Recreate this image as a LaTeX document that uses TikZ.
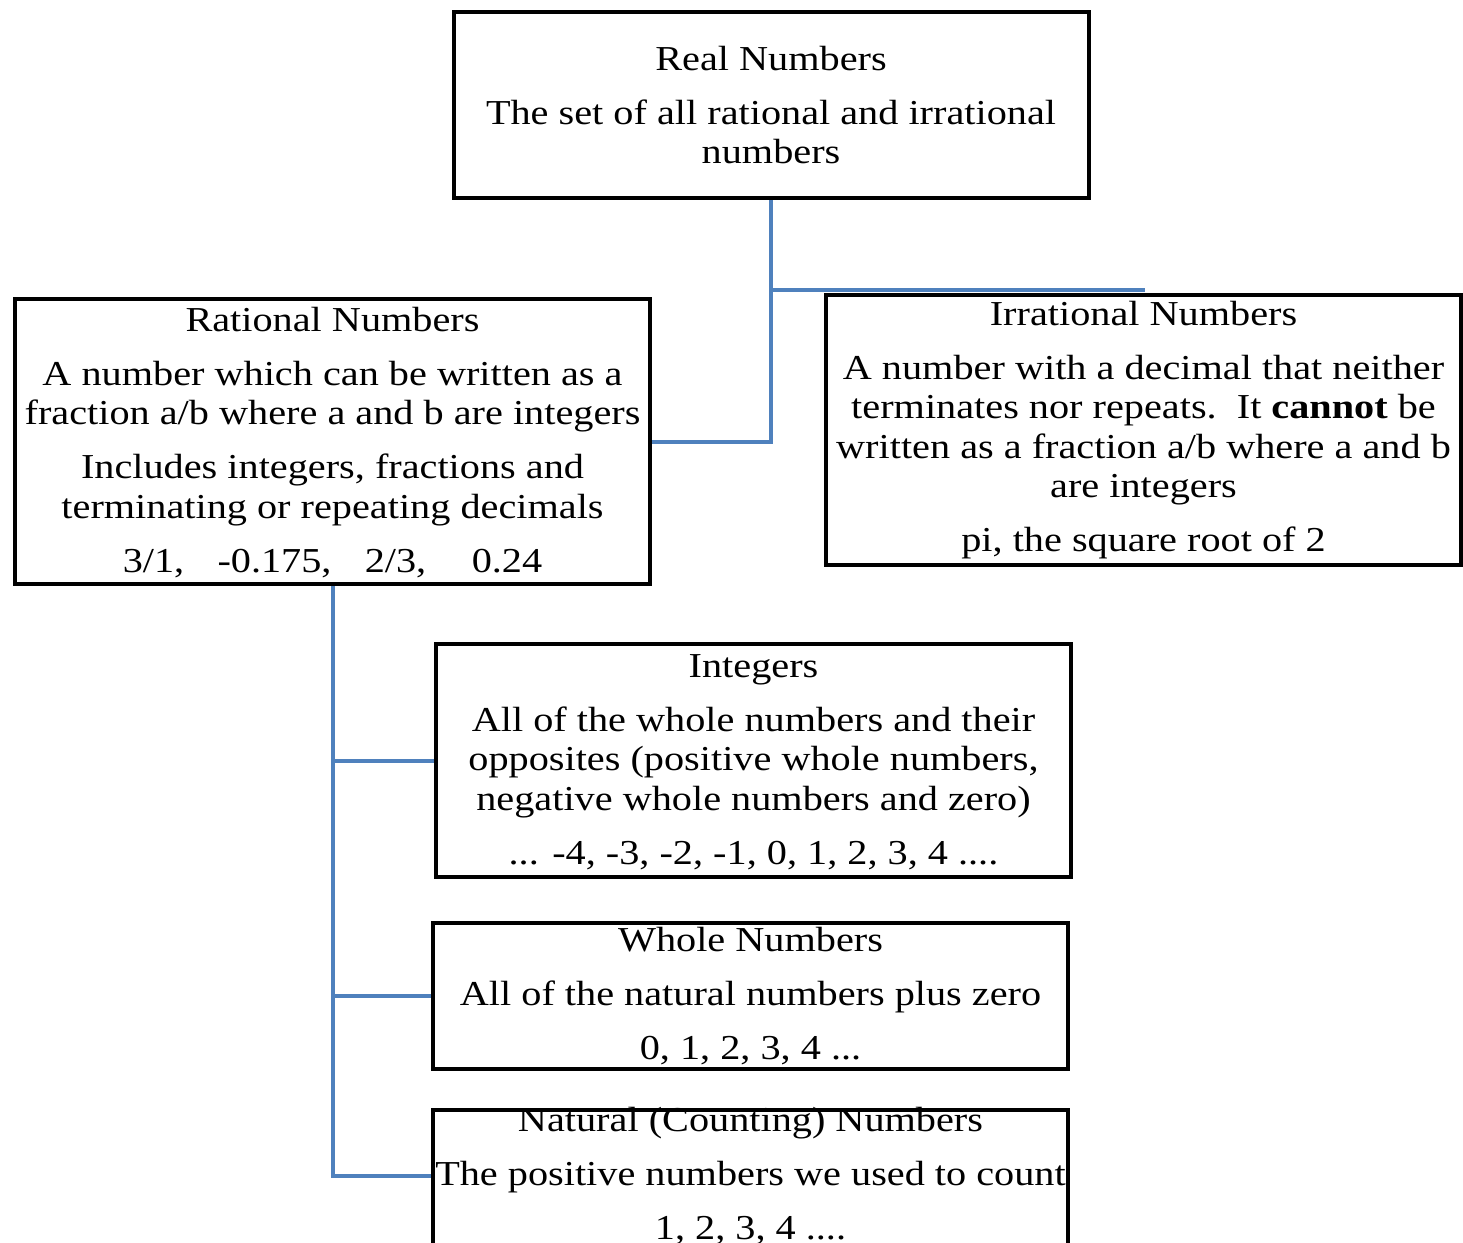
\documentclass[tikz,border=0pt]{standalone}
\usepackage{fontspec}
\setmainfont{Liberation Serif}[FakeStretch=1.15]
\usepackage{tikz}
\usetikzlibrary{positioning, calc}
\usepackage{xcolor}
\definecolor{linkblue}{RGB}{79,129,189}

\begin{document}
\begin{tikzpicture}[x=1pt, y=-1pt,
    numbox/.style={draw=black, line width=4pt, minimum width=635pt, inner sep=0pt},
    numtext/.style={align=center, inner sep=0pt, font=\fontsize{35}{39.5}\selectfont},
    link/.style={draw=linkblue, line width=4pt}]
  \useasboundingbox (0,0) rectangle (1463,1242);
  % boxes
  \node[numbox, minimum height=186pt] (real)  at (771,105)    {};
  \node[numbox, minimum height=285pt] (rat)   at (332.5,441.5) {};
  \node[numbox, minimum height=270pt] (irr)   at (1143.5,430) {};
  \node[numbox, minimum height=233pt] (int)   at (753.5,760.5) {};
  \node[numbox, minimum height=146pt] (whole) at (750.5,996)  {};
  \node[numbox, minimum height=138pt] (nat)   at (750.5,1179) {};
  % texts
  \node[numtext] (realtxt) at (real) {Real Numbers\\[14.5pt]
    The set of all rational and irrational\\ numbers};
  \node[numtext] (rattxt) at ([yshift=-1pt]rat) {Rational Numbers\\[14.5pt]
    A number which can be written as a\\ fraction a/b where a and b are integers\\[14.5pt]
    Includes integers, fractions and\\ terminating or repeating decimals\\[14.5pt]
    3/1,\hspace{0.95em}-0.175,\hspace{0.95em}2/3,\hspace{1.3em}0.24};
  \node[numtext] (irrtxt) at (irr) {Irrational Numbers\\[14.5pt]
    A number with a decimal that neither\\
    terminates nor repeats.\ \ It \textbf{cannot} be\\
    written as a fraction a/b where a and b\\ are integers\\[14.5pt]
    pi, the square root of 2};
  \node[numtext] (inttxt) at ([yshift=-1.5pt]int) {Integers\\[14.5pt]
    All of the whole numbers and their\\
    opposites (positive whole numbers,\\
    negative whole numbers and zero)\\[14.5pt]
    ... -4, -3, -2, -1, 0, 1, 2, 3, 4 ....};
  \node[numtext] (wholetxt) at (whole) {Whole Numbers\\[14.5pt]
    All of the natural numbers plus zero\\[14.5pt]
    0, 1, 2, 3, 4 ...};
  \node[numtext] (nattxt) at ([yshift=3pt]nat) {Natural (Counting) Numbers\\[14.5pt]
    The positive numbers we used to count\\[14.5pt]
    1, 2, 3, 4 ....};
  % links
  \coordinate (irrtop) at (1145,290);
  \coordinate (natin) at (431,1176);
  \draw[link] (real.south) |- (irrtop);
  \draw[link] (real.south) |- (rat.east);
  \draw[link] (rat.south) |- (int.west);
  \draw[link] (rat.south) |- (whole.west);
  \draw[link] (rat.south) |- (natin);
\end{tikzpicture}
\end{document}
